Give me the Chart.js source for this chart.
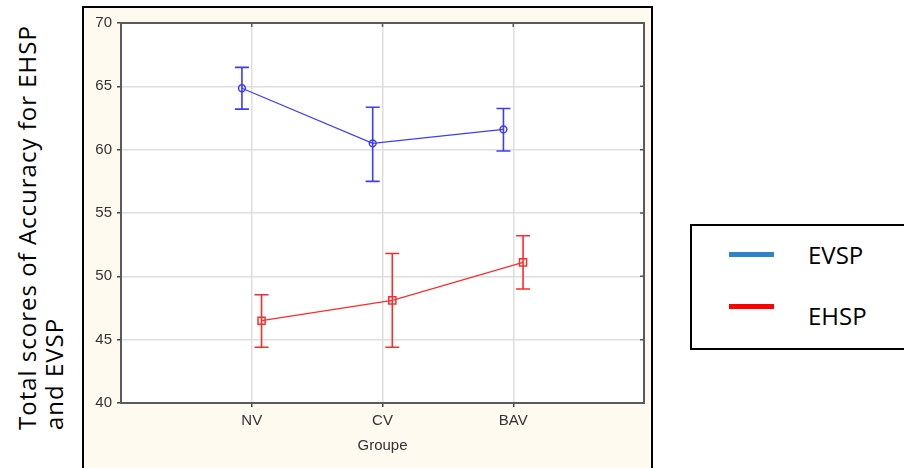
<!DOCTYPE html>
<html>
<head>
<meta charset="utf-8">
<script src="https://cdn.jsdelivr.net/npm/chart.js@4.4.1/dist/chart.umd.min.js"></script>
<style>
  html, body { margin: 0; padding: 0; background: #ffffff; }
  body { width: 904px; height: 468px; position: relative; overflow: hidden; font-family: "Open Sans", sans-serif; }
  #frame {
    position: absolute; left: 82px; top: 6px; width: 567px; height: 470px;
    border: 2px solid #000; border-bottom: none; background: #fffaf0;
  }
  #chartBox { position: absolute; left: 0; top: 0; width: 567px; height: 462px; }
  #yTitle {
    position: absolute; left: 13px; top: 430px; white-space: nowrap;
    transform-origin: 0 0; transform: rotate(-90deg);
    font-size: 24px; line-height: 27px; letter-spacing: 1px; color: #000;
  }
  #legend {
    position: absolute; left: 690px; top: 224px; width: 230px; height: 122px;
    border: 2px solid #000; background: #fff;
  }
  .swatch { position: absolute; width: 45px; height: 5px; }
  .lbl { position: absolute; font-size: 24px; line-height: 24px; color: #000; }
</style>
</head>
<body>
<div id="yTitle">Total scores of Accuracy for EHSP<br>and EVSP</div>
<div id="frame"><div id="chartBox"><canvas id="groupChart"></canvas></div></div>
<div id="legend"></div>

<script>
// Data (Statistica mean plot with error bars)
const groups = ['NV', 'CV', 'BAV'];
const yTicks = [40, 45, 50, 55, 60, 65, 70];

const evspMean = [64.85, 60.5, 61.6];
const evspLow = [63.2, 57.5, 59.9];
const evspHigh = [66.5, 63.35, 63.25];

const ehspMean = [46.5, 48.1, 51.1];
const ehspLow = [44.4, 44.4, 49.0];
const ehspHigh = [48.55, 51.8, 53.2];

const legendNames = ['EVSP', 'EHSP'];
const legendColors = ['#2e84c9', '#ff0000'];

// style
const BLUE = '#3c3cff';
const RED = '#ff2b2b';
const SHIFT = 0.075; // small horizontal dodge between the two series

const toPoints = (vals, dx) => vals.map((v, i) => ({ x: i + 1 + dx, y: v }));

// error bars drawn through the chart scales
const errorBars = {
  id: 'errorBars',
  afterDatasetsDraw(chart) {
    const { ctx, scales: { x, y } } = chart;
    const sets = [
      { low: evspLow, high: evspHigh, dx: -SHIFT, color: BLUE },
      { low: ehspLow, high: ehspHigh, dx: SHIFT, color: RED }
    ];
    ctx.save();
    sets.forEach(s => {
      ctx.strokeStyle = s.color;
      ctx.lineWidth = 1.6;
      s.low.forEach((lo, i) => {
        const px = x.getPixelForValue(i + 1 + s.dx);
        const y1 = y.getPixelForValue(lo);
        const y2 = y.getPixelForValue(s.high[i]);
        ctx.beginPath();
        ctx.moveTo(px, y1); ctx.lineTo(px, y2);
        ctx.moveTo(px - 7, y1); ctx.lineTo(px + 7, y1);
        ctx.moveTo(px - 7, y2); ctx.lineTo(px + 7, y2);
        ctx.stroke();
      });
    });
    ctx.restore();
  }
};

// white plot area behind the grid
const plotBg = {
  id: 'plotBg',
  beforeDraw(chart) {
    const { ctx, chartArea: a } = chart;
    ctx.save();
    ctx.fillStyle = '#ffffff';
    ctx.fillRect(a.left, a.top, a.right - a.left, a.bottom - a.top);
    ctx.restore();
  }
};

// plot frame plus the small ticks on top and right sides
const plotFrame = {
  id: 'plotFrame',
  beforeDatasetsDraw(chart) {
    const { ctx, chartArea: a, scales: { x, y } } = chart;
    ctx.save();
    ctx.strokeStyle = '#5a5a5a';
    ctx.lineWidth = 2;
    ctx.strokeRect(a.left, a.top, a.right - a.left, a.bottom - a.top);
    ctx.lineWidth = 1.5;
    ctx.beginPath();
    groups.forEach((g, i) => {
      const px = x.getPixelForValue(i + 1);
      ctx.moveTo(px, a.top); ctx.lineTo(px, a.top + 4);
    });
    yTicks.forEach(t => {
      const py = y.getPixelForValue(t);
      ctx.moveTo(a.right - 4, py); ctx.lineTo(a.right, py);
    });
    ctx.stroke();
    ctx.restore();
  }
};

const ctx = document.getElementById('groupChart').getContext('2d');
new Chart(ctx, {
  type: 'line',
  data: {
    datasets: [
      {
        label: legendNames[0],
        data: toPoints(evspMean, -SHIFT),
        borderColor: BLUE,
        borderWidth: 1.2,
        pointStyle: 'circle',
        pointRadius: 3.4,
        pointBorderWidth: 1.5,
        pointBackgroundColor: 'rgba(255,255,255,0)',
        pointBorderColor: BLUE,
        tension: 0
      },
      {
        label: legendNames[1],
        data: toPoints(ehspMean, SHIFT),
        borderColor: RED,
        borderWidth: 1.2,
        pointStyle: 'rect',
        pointRadius: 5,
        pointBorderWidth: 1.5,
        pointBackgroundColor: 'rgba(255,255,255,0)',
        pointBorderColor: RED,
        tension: 0
      }
    ]
  },
  options: {
    responsive: true,
    maintainAspectRatio: false,
    animation: false,
    layout: { padding: { top: 15, right: 7, left: 0, bottom: 0 } },
    plugins: {
      legend: { display: false },
      tooltip: { enabled: false }
    },
    scales: {
      x: {
        type: 'linear',
        min: 0,
        max: groups.length + 1,
        afterBuildTicks: axis => { axis.ticks = groups.map((g, i) => ({ value: i + 1 })); },
        ticks: {
          callback: v => groups[v - 1] || '',
          color: '#333',
          font: { family: 'Liberation Sans', size: 15 },
          padding: 5,
          maxRotation: 0
        },
        grid: { color: '#dedede', lineWidth: 1.5, tickLength: 4, tickColor: '#444' },
        border: { display: false },
        title: {
          display: true,
          text: 'Groupe',
          color: '#333',
          font: { family: 'Liberation Sans', size: 15 },
          padding: { top: 0, bottom: 15 }
        },
        afterFit: s => { s.height = 67; }
      },
      y: {
        min: yTicks[0],
        max: yTicks[yTicks.length - 1],
        afterBuildTicks: axis => { axis.ticks = yTicks.map(v => ({ value: v })); },
        ticks: {
          color: '#333',
          font: { family: 'Liberation Sans', size: 15 },
          padding: 5
        },
        grid: { color: '#dedede', lineWidth: 1.5, tickLength: 4, tickColor: '#444' },
        border: { display: false },
        afterFit: s => { s.width = 37; }
      }
    }
  },
  plugins: [plotBg, plotFrame, errorBars]
});

// legend box outside the chart frame
const legendEl = document.getElementById('legend');
const legendRows = [
  { line: 26, text: 17 },
  { line: 78, text: 78 }
];
legendNames.forEach((name, i) => {
  const sw = document.createElement('div');
  sw.className = 'swatch';
  sw.style.left = '37px';
  sw.style.top = legendRows[i].line + 'px';
  sw.style.background = legendColors[i];
  legendEl.appendChild(sw);
  const t = document.createElement('div');
  t.className = 'lbl';
  t.style.left = '116px';
  t.style.top = legendRows[i].text + 'px';
  t.textContent = name;
  legendEl.appendChild(t);
});
</script>
</body>
</html>
